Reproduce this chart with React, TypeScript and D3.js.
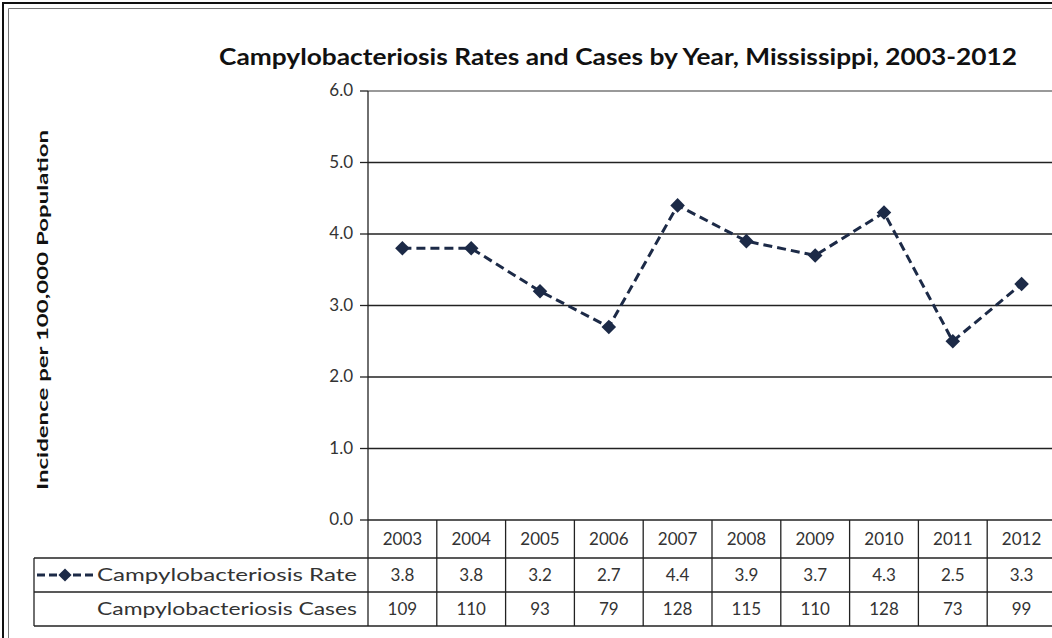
import React from "react";
import * as d3 from "d3";

const years = ["2003", "2004", "2005", "2006", "2007", "2008", "2009", "2010", "2011", "2012"];
const rates = [3.8, 3.8, 3.2, 2.7, 4.4, 3.9, 3.7, 4.3, 2.5, 3.3];
const rateLabels = ["3.8", "3.8", "3.2", "2.7", "4.4", "3.9", "3.7", "4.3", "2.5", "3.3"];
const cases = [109, 110, 93, 79, 128, 115, 110, 128, 73, 99];
const yTicks = [0, 1, 2, 3, 4, 5, 6];
const title = "Campylobacteriosis Rates and Cases by Year, Mississippi, 2003-2012";
const yTitle = "Incidence per 100,000 Population";
const seriesNames = ["Campylobacteriosis Rate", "Campylobacteriosis Cases"];

const W = 1052;
const H = 638;
const plotLeft = 368;
const plotRight = 1056;
const plotTop = 91;
const plotBottom = 520;
const row1 = 558;
const row2 = 592;
const row3 = 626;
const legendLeft = 34;
const FONT = "Lato, 'Open Sans', sans-serif";
const NAVY = "#1c2a47";

export default function App() {
  const x = d3.scaleBand<string>().domain(years).range([plotLeft, plotRight]);
  const y = d3.scaleLinear().domain([0, 6]).range([plotBottom, plotTop]);
  const line = d3
    .line<number>()
    .x((_, i) => (x(years[i]) as number) + x.bandwidth() / 2)
    .y((d) => y(d));
  const diamond = d3.symbol().type(d3.symbolDiamond2).size(135)() as string;
  const legendDiamond = d3.symbol().type(d3.symbolDiamond2).size(110)() as string;

  return (
    <svg width={W} height={H} style={{ display: "block", position: "absolute", left: 0, top: 0 }}>
      <rect x={0} y={0} width={W} height={H} fill="#fff" />
      {/* frame */}
      <line x1={3} y1={2} x2={3} y2={H} stroke="#111" strokeWidth={2} />
      <line x1={2} y1={3} x2={W} y2={3} stroke="#111" strokeWidth={2} />
      <line x1={8.5} y1={8.5} x2={8.5} y2={H} stroke="#777" strokeWidth={1} />
      <line x1={8.5} y1={8.5} x2={W} y2={8.5} stroke="#777" strokeWidth={1} />

      {/* title */}
      <text
        x={618}
        y={65}
        textAnchor="middle"
        fontFamily={FONT}
        fontWeight={700}
        fontSize={23}
        fill="#111"
        textLength={798}
        lengthAdjust="spacingAndGlyphs"
      >
        {title}
      </text>

      {/* gridlines */}
      {yTicks.filter((t) => t > 0).map((t) => (
        <line
          key={t}
          x1={plotLeft}
          x2={plotRight}
          y1={y(t)}
          y2={y(t)}
          stroke={t === 6 ? "#777" : "#222"}
          strokeWidth={1.3}
        />
      ))}
      {/* y axis */}
      <line x1={plotLeft} x2={plotLeft} y1={plotTop} y2={row3} stroke="#222" strokeWidth={1.3} />
      {yTicks.map((t) => (
        <g key={t}>
          <line x1={plotLeft - 8} x2={plotLeft} y1={y(t)} y2={y(t)} stroke="#222" strokeWidth={1.3} />
          <text
            x={353}
            y={y(t)}
            dy="0.3em"
            textAnchor="end"
            fontFamily={FONT}
            fontSize={17}
            fill="#333"
          >
            {t.toFixed(1)}
          </text>
        </g>
      ))}
      {/* y title */}
      <text
        transform={`translate(48,${310}) rotate(-90)`}
        textAnchor="middle"
        fontFamily={FONT}
        fontWeight={700}
        fontSize={16}
        fill="#111"
        textLength={360}
        lengthAdjust="spacingAndGlyphs"
      >
        {yTitle}
      </text>

      {/* table lines */}
      <line x1={plotLeft} x2={plotRight} y1={plotBottom} y2={plotBottom} stroke="#222" strokeWidth={1.3} />
      {[row1, row2, row3].map((r) => (
        <line key={r} x1={legendLeft} x2={plotRight} y1={r} y2={r} stroke="#222" strokeWidth={1.3} />
      ))}
      <line x1={legendLeft} x2={legendLeft} y1={row1} y2={row3} stroke="#222" strokeWidth={1.3} />
      {years.map((yr) => (
        <line
          key={yr}
          x1={(x(yr) as number) + x.bandwidth()}
          x2={(x(yr) as number) + x.bandwidth()}
          y1={plotBottom}
          y2={row3}
          stroke="#222"
          strokeWidth={1.3}
        />
      ))}
      {years.map((yr, i) => {
        const cx = (x(yr) as number) + x.bandwidth() / 2;
        return (
          <g key={yr} fontFamily={FONT} fontSize={17} fill="#333" textAnchor="middle">
            <text x={cx} y={(plotBottom + row1) / 2} dy="0.36em">{yr}</text>
            <text x={cx} y={(row1 + row2) / 2} dy="0.36em">{rateLabels[i]}</text>
            <text x={cx} y={(row2 + row3) / 2} dy="0.36em">{cases[i]}</text>
          </g>
        );
      })}
      {/* legend */}
      <line x1={37} x2={93} y1={(row1 + row2) / 2} y2={(row1 + row2) / 2} stroke={NAVY} strokeWidth={3} strokeDasharray="8,4" />
      <path d={legendDiamond} transform={`translate(65,${(row1 + row2) / 2})`} fill={NAVY} />
      <text x={357} y={(row1 + row2) / 2} dy="0.36em" textAnchor="end" fontFamily={FONT} fontSize={18} fill="#333" textLength={260} lengthAdjust="spacingAndGlyphs">
        {seriesNames[0]}
      </text>
      <text x={357} y={(row2 + row3) / 2} dy="0.36em" textAnchor="end" fontFamily={FONT} fontSize={18} fill="#333" textLength={260} lengthAdjust="spacingAndGlyphs">
        {seriesNames[1]}
      </text>

      {/* series */}
      <path d={line(rates) as string} fill="none" stroke={NAVY} strokeWidth={3} strokeDasharray="9,5" />
      {rates.map((r, i) => (
        <path
          key={i}
          d={diamond}
          transform={`translate(${(x(years[i]) as number) + x.bandwidth() / 2},${y(r)})`}
          fill={NAVY}
        />
      ))}
    </svg>
  );
}
